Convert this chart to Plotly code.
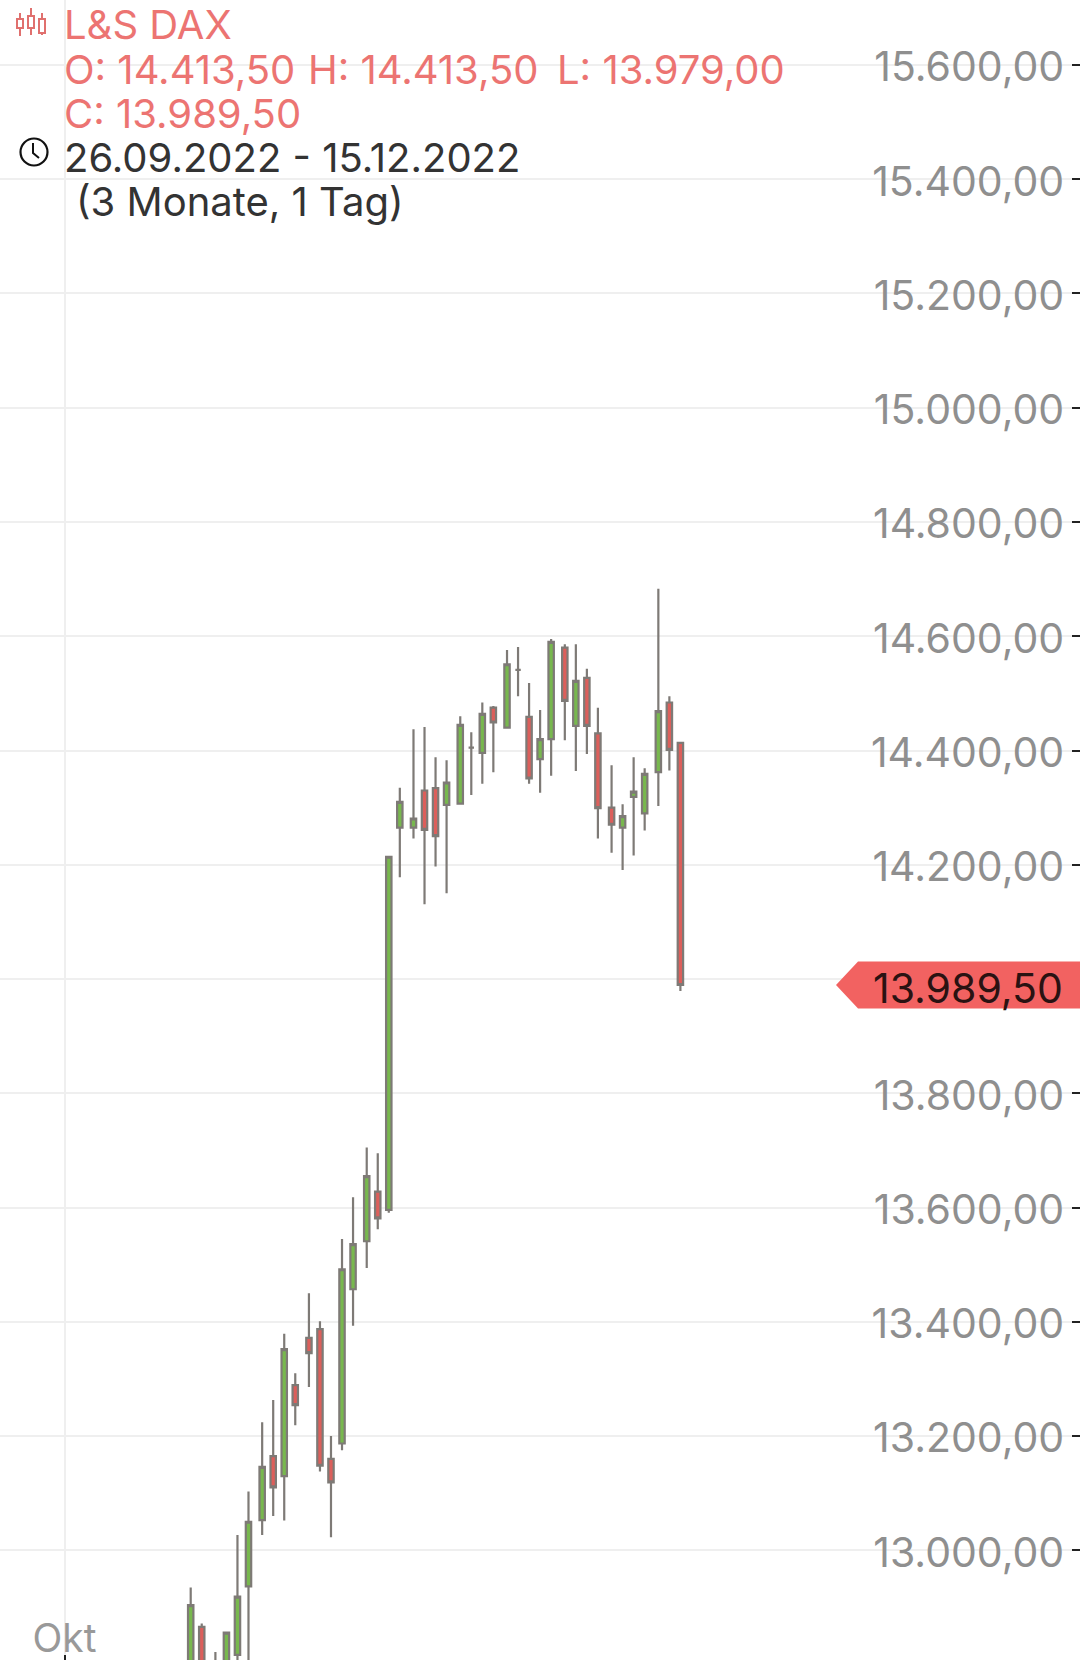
import plotly.graph_objects as go

W, H = 1080, 1660

# sessions per uninterrupted run of candles (small gap between runs)
run_lengths = [2, 4, 4, 5, 4, 4, 4, 5, 4, 4, 3]
run_gap = 1.24

opens = [12760, 12866, 12740, 12780, 12817, 12937, 13053, 13165, 13130, 13289, 13372, 13387, 13160,
         13187, 13457, 13541, 13628, 13596, 14265, 14265, 14330, 14334, 14305, 14307, 14405, 14396,
         14475, 14440, 14541, 14459, 14385, 14420, 14580, 14443, 14527, 14430, 14300, 14265, 14319,
         14290, 14362, 14484, 14413.5]
highs = [12935, 12872, 12822, 12856, 13027, 13103, 13224, 13263, 13379, 13310, 13450, 13401, 13200,
         13545, 13618, 13705, 13695, 14214, 14335, 14437, 14441, 14388, 14383, 14460, 14432, 14484,
         14478, 14576, 14581, 14518, 14471, 14595, 14586, 14586, 14543, 14475, 14374, 14306, 14388,
         14369, 14683, 14495, 14413.5]
lows = [12740, 12750, 12720, 12770, 12790, 12790, 13027, 13060, 13052, 13219, 13286, 13138, 13023,
        13175, 13393, 13494, 13562, 13591, 14178, 14246, 14131, 14197, 14150, 14305, 14322, 14342,
        14362, 14440, 14495, 14342, 14326, 14356, 14418, 14364, 14394, 14246, 14221, 14191, 14216,
        14260, 14303, 14365, 13979]
closes = [12904, 12770, 12790, 12856, 12919, 13050, 13146, 13110, 13352, 13254, 13345, 13148, 13119,
          13492, 13536, 13655, 13581, 14214, 14310, 14281, 14261, 14250, 14344, 14445, 14405, 14464,
          14449, 14551, 14541, 14351, 14420, 14590, 14487, 14522, 14443, 14299, 14270, 14285, 14328,
          14359, 14469, 14401, 13989.5]

y_ticks = [15600, 15400, 15200, 15000, 14800, 14600, 14400, 14200, 14000, 13800, 13600, 13400, 13200, 13000]
y_labels = ["15.600,00", "15.400,00", "15.200,00", "15.000,00", "14.800,00", "14.600,00", "14.400,00",
            "14.200,00", "", "13.800,00", "13.600,00", "13.400,00", "13.200,00", "13.000,00"]
last_label = "13.989,50"
month_tick = [-11.44]
month_label = ["Okt"]

sessions = []
pos = 0.0
for n in run_lengths:
    for i in range(n):
        sessions.append(pos + i)
    pos += n - 1 + run_gap

GREY = "#7e7a76"
GREEN = "#78b84e"
RED = "#dc5f5b"
LABEL_RED = "#ec7472"
GRID = "#efefef"
FONT = "Inter"
SIZE = 40

fig = go.Figure(go.Candlestick(
    x=sessions, open=opens, high=highs, low=lows, close=closes,
    increasing=dict(fillcolor=GREEN, line=dict(color=GREY, width=2.2)),
    decreasing=dict(fillcolor=RED, line=dict(color=GREY, width=2.2)),
    whiskerwidth=0,
))


def px(x):
    return x / W


def py(y):
    return 1 - y / H


shapes = [
    # white panel behind the value labels
    dict(type="rect", xref="paper", yref="paper", x0=px(873), x1=px(1072), y0=0, y1=1,
         fillcolor="white", line_width=0, layer="between"),
    # legend panel
    dict(type="rect", xref="paper", yref="paper", x0=px(20), x1=px(823), y0=py(72), y1=py(56),
         fillcolor="white", line_width=0, layer="between"),
    dict(type="rect", xref="paper", yref="paper", x0=px(20), x1=px(555), y0=py(222), y1=py(0),
         fillcolor="rgba(255,255,255,0.7)", line_width=0, layer="between"),
]

# last price flag, anchored on the last close
flag = 41
c = closes[-1]
xt, xs = px(836), px(858)
shapes.append(dict(type="path", xref="paper", yref="y",
                   path=f"M {xt} {c} L {xs} {c + flag} L 1 {c + flag} L 1 {c - flag} L {xs} {c - flag} Z",
                   fillcolor="#f26261", line_width=0, layer="above"))

# clock icon
cx, cy, r = 34, 152, 13.5
shapes.append(dict(type="circle", xref="paper", yref="paper", x0=px(cx - r), x1=px(cx + r),
                   y0=py(cy + r), y1=py(cy - r), line=dict(color="#111", width=2.2), layer="above"))
shapes.append(dict(type="path", xref="paper", yref="paper",
                   path=f"M {px(cx - 1)} {py(cy - 9)} L {px(cx - 1)} {py(cy + 1)} L {px(cx + 5)} {py(cy + 6)}",
                   line=dict(color="#111", width=2), layer="above"))

# candlestick icon
for ix, t, b, lo, hi in [(20, 19, 28, 13, 36), (31, 16, 28, 8, 35), (42, 19, 33, 13, 35)]:
    shapes.append(dict(type="line", xref="paper", yref="paper", x0=px(ix), x1=px(ix), y0=py(lo), y1=py(hi),
                       line=dict(color="#e0706e", width=2), layer="above"))
    shapes.append(dict(type="rect", xref="paper", yref="paper", x0=px(ix - 3), x1=px(ix + 3), y0=py(b), y1=py(t),
                       fillcolor="white", line=dict(color="#e0706e", width=2), layer="above"))

fig.update_layout(
    width=W, height=H, margin=dict(l=0, r=0, t=0, b=0, pad=0),
    paper_bgcolor="white", plot_bgcolor="white", showlegend=False, boxgap=0.3,
    shapes=shapes,
    xaxis=dict(range=[-17.29, 80.63], rangeslider=dict(visible=False), tickmode="array",
               tickvals=month_tick, ticktext=month_label, showgrid=True, gridcolor=GRID, gridwidth=1.5,
               zeroline=False, showline=False, ticks="inside", ticklen=5, tickcolor="#222", tickwidth=2,
               ticklabelposition="inside", tickfont=dict(family=FONT, size=SIZE - 1, color="#999999")),
    yaxis=dict(range=[12808, 15713.7], side="right", tickmode="array", tickvals=y_ticks, ticktext=y_labels,
               showgrid=True, gridcolor=GRID, gridwidth=2, zeroline=False, showline=False,
               ticks="inside", ticklen=8, tickcolor="#222", tickwidth=2,
               ticklabelposition="inside", ticklabelstandoff=13, ticklabelshift=2,
               tickfont=dict(family=FONT, size=SIZE + 1, color="#8f8f8f")),
)


def label(text, x, y, color):
    fig.add_annotation(text=text, xref="paper", yref="paper", x=px(x), y=py(y), xanchor="left",
                       yanchor="middle", showarrow=False, font=dict(family=FONT, size=SIZE, color=color))


label("L&amp;S DAX", 62, 25, LABEL_RED)
label("O: 14.413,50", 62, 69, LABEL_RED)
label("H: 14.413,50", 306, 69, LABEL_RED)
label("L: 13.979,00", 555, 69, LABEL_RED)
label("C: 13.989,50", 62, 113, LABEL_RED)
label("26.09.2022 - 15.12.2022", 62, 158, "#333333")
label("(3 Monate, 1 Tag)", 74, 201, "#333333")
fig.add_annotation(text=last_label, xref="paper", yref="y", x=px(1065), y=c, xanchor="right", yanchor="middle",
                   yshift=-3, showarrow=False, font=dict(family=FONT, size=SIZE + 1, color="#2a1212"))

fig.write_html("out.html", config={"displayModeBar": False}, post_script="document.body.style.margin='0';")
